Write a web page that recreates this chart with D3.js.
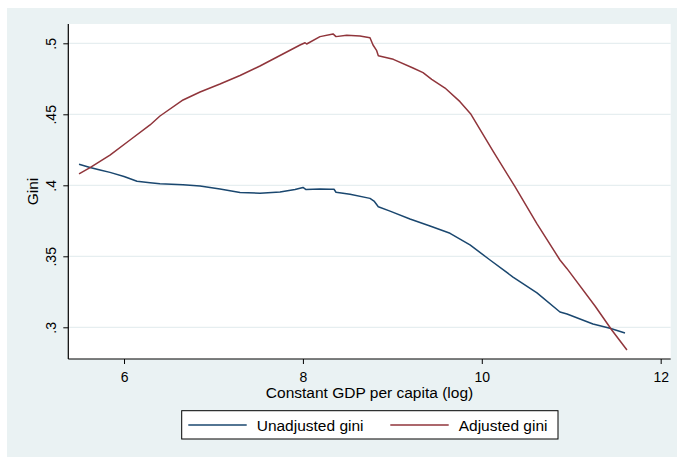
<!DOCTYPE html>
<html>
<head>
<meta charset="utf-8">
<script src="https://cdn.jsdelivr.net/npm/d3@7"></script>
<style>
  html, body { margin: 0; padding: 0; background: #ffffff; }
  svg { display: block; }
  text { font-family: "Liberation Sans", Arial, sans-serif; fill: #000; }
</style>
</head>
<body>
<svg id="chart" width="677" height="457"></svg>
<script>
// Log GDP per capita (x) and Gini (y), smoothed fits
const unadjX = [5.497, 5.620, 5.732, 5.843, 6.000, 6.145, 6.291, 6.402, 6.660, 6.850, 7.073, 7.297, 7.520, 7.744, 7.912, 8.001, 8.035, 8.191, 8.303, 8.348, 8.370, 8.527, 8.750, 8.795, 8.843, 8.974, 9.197, 9.421, 9.645, 9.868, 10.092, 10.349, 10.617, 10.874, 10.953, 11.243, 11.433, 11.601];
const unadjY = [0.4148, 0.4125, 0.4108, 0.4091, 0.4062, 0.4028, 0.4018, 0.4011, 0.4004, 0.3995, 0.3974, 0.3950, 0.3944, 0.3953, 0.3970, 0.3985, 0.3970, 0.3974, 0.3972, 0.3972, 0.3951, 0.3937, 0.3908, 0.3889, 0.3849, 0.3818, 0.3763, 0.3713, 0.3662, 0.3580, 0.3474, 0.3354, 0.3242, 0.3108, 0.3094, 0.3023, 0.2993, 0.2960];

const adjX = [5.497, 5.620, 5.843, 6.067, 6.291, 6.402, 6.660, 6.850, 7.073, 7.297, 7.520, 7.744, 7.968, 8.024, 8.042, 8.191, 8.337, 8.370, 8.490, 8.638, 8.750, 8.784, 8.825, 8.843, 9.011, 9.231, 9.343, 9.440, 9.589, 9.756, 9.879, 10.129, 10.371, 10.614, 10.874, 10.953, 11.266, 11.455, 11.623];
const adjY = [0.4080, 0.4124, 0.4213, 0.4319, 0.4425, 0.4488, 0.4601, 0.4657, 0.4713, 0.4773, 0.4840, 0.4914, 0.4988, 0.5004, 0.4995, 0.5047, 0.5066, 0.5047, 0.5056, 0.5051, 0.5039, 0.4988, 0.4948, 0.4913, 0.4887, 0.4826, 0.4793, 0.4746, 0.4685, 0.4589, 0.4500, 0.4237, 0.3990, 0.3732, 0.3474, 0.3413, 0.3150, 0.2979, 0.2840];

const xTicks = [6, 8, 10, 12];
const yTicks = [0.3, 0.35, 0.4, 0.45, 0.5];
const yTickLabels = [".3", ".35", ".4", ".45", ".5"];
const seriesNames = ["Unadjusted gini", "Adjusted gini"];
const seriesColors = ["#1a476f", "#90353b"];

const svg = d3.select("#chart");
const W = 677, H = 457;

// Outer graph region
svg.append("rect").attr("x", 7).attr("y", 8).attr("width", W - 7).attr("height", H - 8)
  .attr("fill", "#eaf2f3");

const plot = { left: 68.3, right: 670.7, top: 24, bottom: 359 };

const x = d3.scaleLinear().domain([5.377, 12.112]).range([plot.left, plot.right]);
const y = d3.scaleLinear().domain([0.27768, 0.51359]).range([plot.bottom, plot.top]);

// Plot region
svg.append("rect")
  .attr("x", plot.left).attr("y", plot.top)
  .attr("width", plot.right - plot.left).attr("height", plot.bottom - plot.top)
  .attr("fill", "#ffffff");

// Horizontal grid lines
svg.append("g").selectAll("line").data(yTicks).join("line")
  .attr("x1", plot.left).attr("x2", plot.right)
  .attr("y1", d => y(d)).attr("y2", d => y(d))
  .attr("stroke", "#e6eef0").attr("stroke-width", 1.2);

// Series lines
const line = d3.line().x(d => x(d[0])).y(d => y(d[1]));
const series = [
  d3.zip(unadjX, unadjY),
  d3.zip(adjX, adjY)
];
svg.append("g").selectAll("path").data(series).join("path")
  .attr("d", line)
  .attr("fill", "none")
  .attr("stroke", (d, i) => seriesColors[i])
  .attr("stroke-width", 1.5)
  .attr("stroke-linejoin", "round");

// X axis
const xAxis = d3.axisBottom(x).tickValues(xTicks).tickSize(5).tickPadding(4).tickFormat(d3.format("d"));
const gx = svg.append("g").attr("transform", `translate(0,${plot.bottom})`).call(xAxis);
gx.select(".domain").attr("d", `M${plot.left},0H${plot.right}`).attr("stroke", "#000").attr("stroke-width", 1.2);
gx.selectAll(".tick line").attr("stroke", "#000");
gx.selectAll(".tick text").attr("font-size", 14).attr("font-family", "Liberation Sans, Arial, sans-serif").attr("fill", "#000")
  .attr("dy", null).attr("y", 23);

// Y axis with rotated labels
const yAxis = d3.axisLeft(y).tickValues(yTicks).tickSize(5).tickFormat((d, i) => yTickLabels[i]);
const gy = svg.append("g").attr("transform", `translate(${plot.left},0)`).call(yAxis);
gy.select(".domain").attr("d", `M0,${plot.top}V${plot.bottom}`).attr("stroke", "#000").attr("stroke-width", 1.2);
gy.selectAll(".tick line").attr("stroke", "#000");
gy.selectAll(".tick text")
  .attr("font-size", 14).attr("font-family", "Liberation Sans, Arial, sans-serif").attr("fill", "#000")
  .attr("x", null).attr("dy", null)
  .attr("text-anchor", "middle")
  .attr("transform", "translate(-12.5,0) rotate(-90)");

// Axis titles
svg.append("text")
  .attr("x", (plot.left + plot.right) / 2).attr("y", 397.5)
  .attr("text-anchor", "middle").attr("font-size", 15.5)
  .text("Constant GDP per capita (log)");

svg.append("text")
  .attr("transform", `translate(38.3,${(plot.top + plot.bottom) / 2}) rotate(-90)`)
  .attr("text-anchor", "middle").attr("font-size", 15.5)
  .text("Gini");

// Legend
const legend = svg.append("g");
legend.append("rect")
  .attr("x", 181.7).attr("y", 410.7).attr("width", 558 - 181.7).attr("height", 439 - 410.7)
  .attr("fill", "#ffffff").attr("stroke", "#000").attr("stroke-width", 1);
const legendItems = [
  { x1: 188.3, x2: 246.7, tx: 256.7 },
  { x1: 390.3, x2: 448.7, tx: 458.7 }
];
legendItems.forEach((p, i) => {
  legend.append("line").attr("x1", p.x1).attr("x2", p.x2).attr("y1", 425).attr("y2", 425)
    .attr("stroke", seriesColors[i]).attr("stroke-width", 1.5);
  legend.append("text").attr("x", p.tx).attr("y", 430.7).attr("font-size", 15.5).text(seriesNames[i]);
});
</script>
</body>
</html>
